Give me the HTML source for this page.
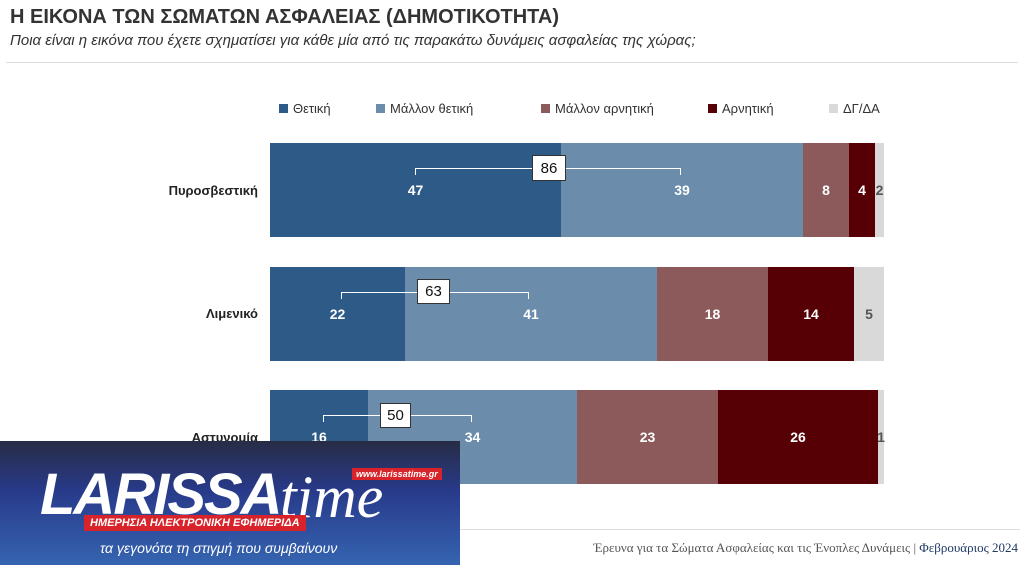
<!DOCTYPE html><html><head><meta charset="utf-8"><style>
body{margin:0;width:1024px;height:565px;background:#fff;position:relative;overflow:hidden;font-family:"Liberation Sans",sans-serif}
.a{position:absolute}
.seg{position:absolute;color:#fff;font-weight:bold;font-size:14px;display:flex;align-items:center;justify-content:center}
.lg{position:absolute;top:101px;font-size:13px;color:#333;display:flex;align-items:center}
.lg i{display:inline-block;width:9px;height:9px;margin-right:5px}
.cat{position:absolute;right:766px;font-weight:bold;font-size:13px;color:#222}
.br{position:absolute;border-top:1px solid #fff;border-left:1px solid #fff;border-right:1px solid #fff;height:6px}
.bx{position:absolute;background:#fff;border:1.5px solid #333;font-size:15px;color:#111;display:flex;align-items:center;justify-content:center;box-sizing:border-box}
</style></head><body>
<div class="a" style="left:10px;top:6px;font-size:20px;font-weight:bold;color:#333">Η ΕΙΚΟΝΑ ΤΩΝ ΣΩΜΑΤΩΝ ΑΣΦΑΛΕΙΑΣ (ΔΗΜΟΤΙΚΟΤΗΤΑ)</div>
<div class="a" style="left:10px;top:32px;font-size:15px;font-style:italic;color:#333">Ποια είναι η εικόνα που έχετε σχηματίσει για κάθε μία από τις παρακάτω δυνάμεις ασφαλείας της χώρας;</div>
<div class="a" style="left:6px;top:62px;width:1012px;height:1px;background:#ddd"></div>
<div class="lg" style="left:279px"><i style="background:#2e5a87"></i>Θετική</div>
<div class="lg" style="left:376px"><i style="background:#6b8cab"></i>Μάλλον θετική</div>
<div class="lg" style="left:541px"><i style="background:#8c5a5a"></i>Μάλλον αρνητική</div>
<div class="lg" style="left:708px"><i style="background:#560006"></i>Αρνητική</div>
<div class="lg" style="left:829px"><i style="background:#d9d9d9"></i>ΔΓ/ΔΑ</div>

<div class="cat" style="top:183px">Πυροσβεστική</div>
<div class="seg" style="left:270px;width:291px;top:143px;height:94px;background:#2e5a87">47</div>
<div class="seg" style="left:561px;width:242px;top:143px;height:94px;background:#6b8cab">39</div>
<div class="seg" style="left:803px;width:46px;top:143px;height:94px;background:#8c5a5a">8</div>
<div class="seg" style="left:849px;width:26px;top:143px;height:94px;background:#560006">4</div>
<div class="seg" style="left:875px;width:9px;top:143px;height:94px;background:#d9d9d9;color:#555">2</div>
<div class="br" style="left:415px;width:264px;top:168px"></div>
<div class="bx" style="left:532px;width:34px;top:155px;height:26px">86</div>

<div class="cat" style="top:306px">Λιμενικό</div>
<div class="seg" style="left:270px;width:135px;top:267px;height:94px;background:#2e5a87">22</div>
<div class="seg" style="left:405px;width:252px;top:267px;height:94px;background:#6b8cab">41</div>
<div class="seg" style="left:657px;width:111px;top:267px;height:94px;background:#8c5a5a">18</div>
<div class="seg" style="left:768px;width:86px;top:267px;height:94px;background:#560006">14</div>
<div class="seg" style="left:854px;width:30px;top:267px;height:94px;background:#d9d9d9;color:#555">5</div>
<div class="br" style="left:341px;width:186px;top:292px"></div>
<div class="bx" style="left:417px;width:33px;top:279px;height:25px">63</div>

<div class="cat" style="top:430px">Αστυνομία</div>
<div class="seg" style="left:270px;width:98px;top:390px;height:94px;background:#2e5a87">16</div>
<div class="seg" style="left:368px;width:209px;top:390px;height:94px;background:#6b8cab">34</div>
<div class="seg" style="left:577px;width:141px;top:390px;height:94px;background:#8c5a5a">23</div>
<div class="seg" style="left:718px;width:160px;top:390px;height:94px;background:#560006">26</div>
<div class="seg" style="left:878px;width:6px;top:390px;height:94px;background:#d9d9d9;color:#555">1</div>
<div class="br" style="left:323px;width:147px;top:415px"></div>
<div class="bx" style="left:380px;width:31px;top:403px;height:25px">50</div>

<div class="a" style="left:460px;top:529px;width:560px;height:1px;background:#ddd"></div>
<div class="a" style="right:6px;top:540px;font-family:'Liberation Serif',serif;font-size:13px;color:#555">Έρευνα για τα Σώματα Ασφαλείας και τις Ένοπλες Δυνάμεις | <span style="color:#1f3864">Φεβρουάριος 2024</span></div>

<div class="a" style="left:0;top:441px;width:460px;height:124px;background:linear-gradient(#272c45,#283a8a 40%,#3564b0)">
<div class="a" style="left:40px;top:20px;font-size:58px;font-weight:bold;font-style:italic;color:#fff;letter-spacing:-2px">LARISSA</div>
<div class="a" style="left:280px;top:22px;font-size:60px;font-style:italic;font-family:'Liberation Serif',serif;color:#fff">time</div>
<div class="a" style="left:352px;top:27px;background:#d8232a;color:#fff;font-size:9px;font-weight:bold;font-style:italic;padding:1px 4px">www.larissatime.gr</div>
<div class="a" style="left:84px;top:74px;background:#d8232a;color:#fff;font-size:11px;font-weight:bold;font-style:italic;padding:2px 6px">ΗΜΕΡΗΣΙΑ ΗΛΕΚΤΡΟΝΙΚΗ ΕΦΗΜΕΡΙΔΑ</div>
<div class="a" style="left:100px;top:99px;color:#fff;font-size:14px;font-style:italic">τα γεγονότα τη στιγμή που συμβαίνουν</div>
</div>
</body></html>
